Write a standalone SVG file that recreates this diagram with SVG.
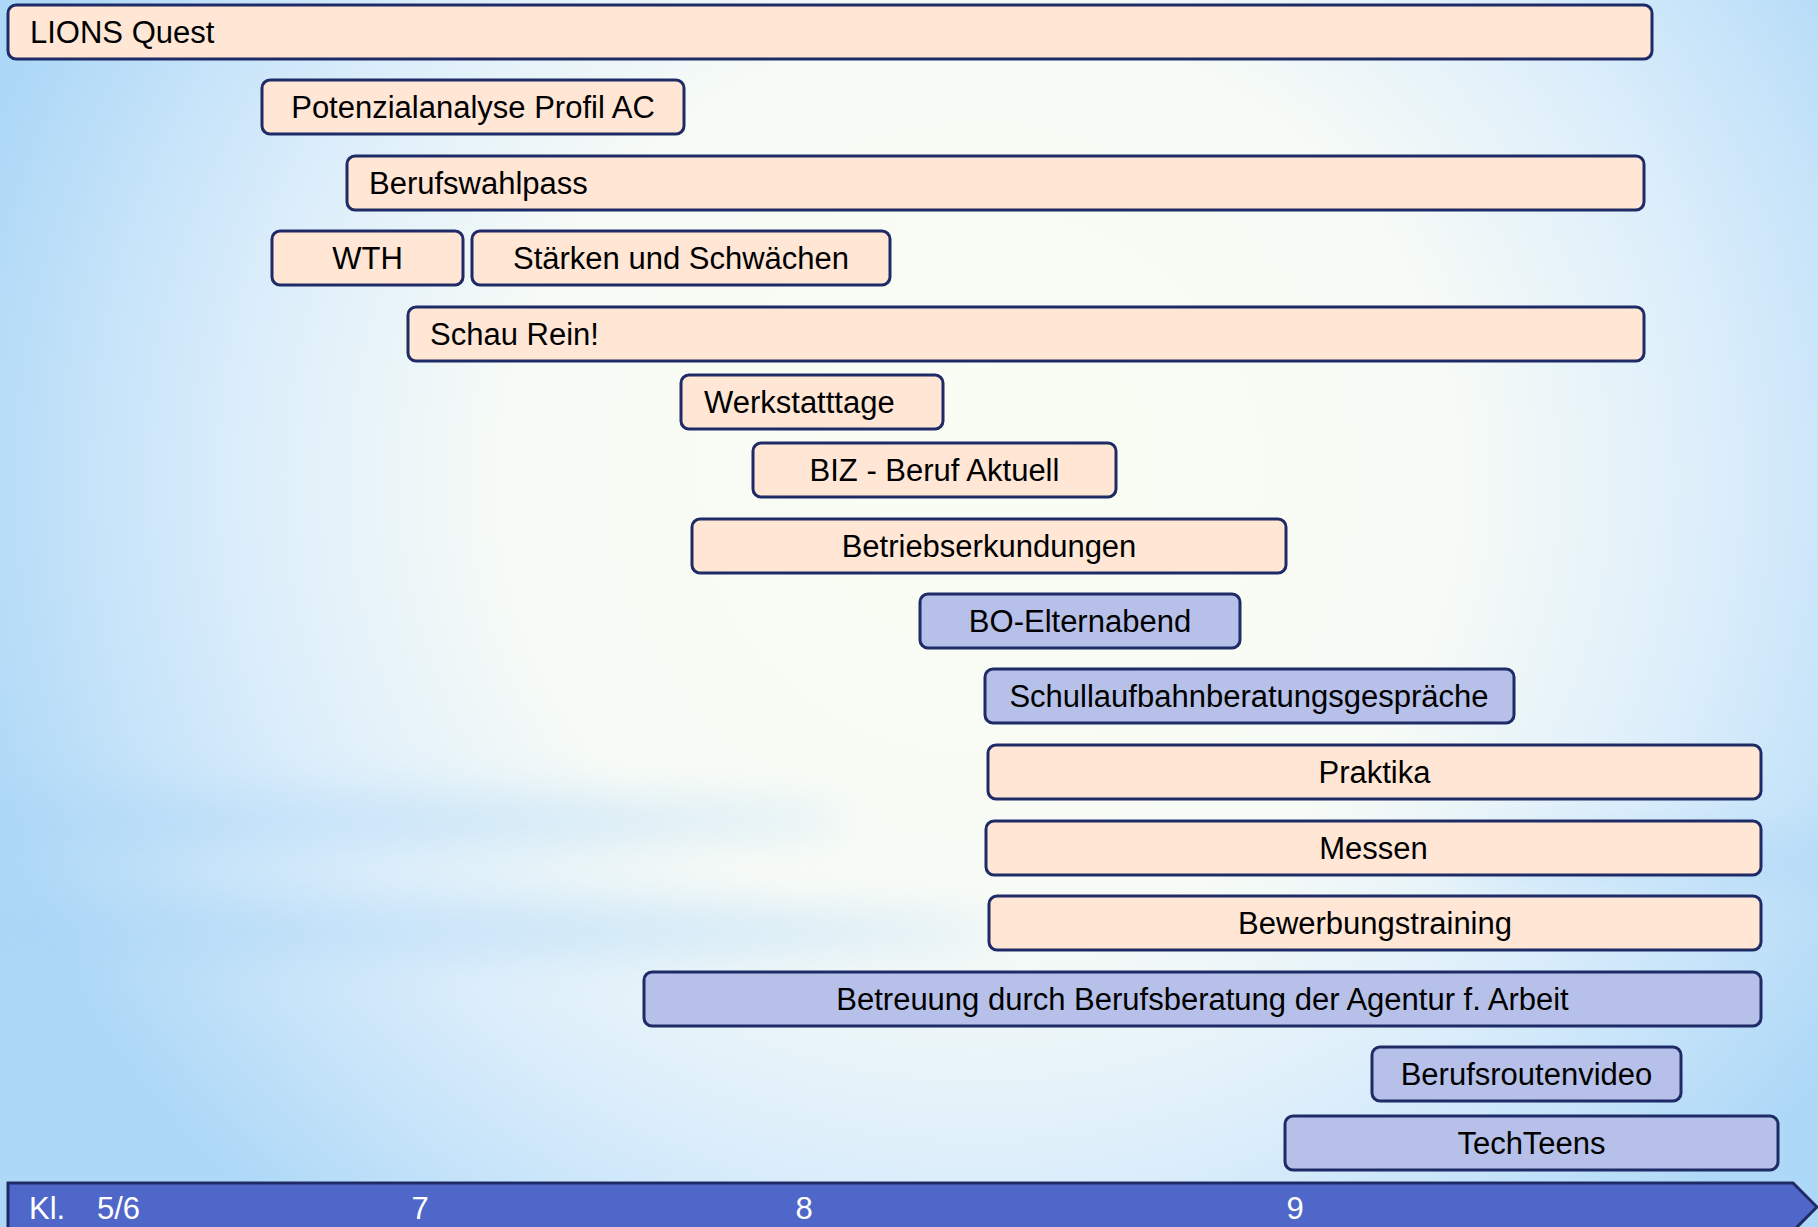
<svg xmlns="http://www.w3.org/2000/svg" width="1818" height="1227" viewBox="0 0 1818 1227">
<defs>
<radialGradient id="bg" cx="980" cy="480" r="1050" gradientUnits="userSpaceOnUse" gradientTransform="translate(980 480) scale(1 0.95) translate(-980 -480)">
<stop offset="0" stop-color="#FAFDF2"/>
<stop offset="0.45" stop-color="#F7FBF6"/>
<stop offset="0.7" stop-color="#DCEEFB"/>
<stop offset="1" stop-color="#ADD8F7"/>
</radialGradient>
<filter id="blur" x="-50%" y="-50%" width="200%" height="200%"><feGaussianBlur stdDeviation="22"/></filter>
<style>
.peach{fill:#FFE6D5;stroke:#1F2B66;stroke-width:3}
.blue{fill:#B6C0E8;stroke:#1F2B66;stroke-width:3}
.t{font-family:"Liberation Sans",Arial,sans-serif;font-size:31px;fill:#000}
.c{text-anchor:middle}
.ax{font-family:"Liberation Sans",Arial,sans-serif;font-size:31px;fill:#FFFFFF}
</style>
</defs>
<rect x="0" y="0" width="1818" height="1227" fill="url(#bg)"/>
<g filter="url(#blur)" opacity="0.4">
<ellipse cx="250" cy="820" rx="600" ry="26" fill="#A9D4F6"/>
<ellipse cx="300" cy="930" rx="700" ry="28" fill="#A9D4F6"/>
<ellipse cx="1700" cy="860" rx="250" ry="30" fill="#A9D4F6"/>
</g>

<g id="connectors"></g>

<g id="n1"><rect class="peach" x="8" y="5" width="1644" height="54" rx="8"/><text class="t" x="30" y="43">LIONS Quest</text></g>
<g id="n2"><rect class="peach" x="262" y="80" width="422" height="54" rx="8"/><text class="t c" x="473" y="118">Potenzialanalyse Profil AC</text></g>
<g id="n3"><rect class="peach" x="347" y="156" width="1297" height="54" rx="8"/><text class="t" x="369" y="194">Berufswahlpass</text></g>
<g id="n4"><rect class="peach" x="272" y="231" width="191" height="54" rx="8"/><text class="t c" x="367.5" y="269">WTH</text></g>
<g id="n5"><rect class="peach" x="472" y="231" width="418" height="54" rx="8"/><text class="t c" x="681" y="269">Stärken und Schwächen</text></g>
<g id="n6"><rect class="peach" x="408" y="307" width="1236" height="54" rx="8"/><text class="t" x="430" y="345">Schau Rein!</text></g>
<g id="n7"><rect class="peach" x="681" y="375" width="262" height="54" rx="8"/><text class="t" x="704" y="413">Werkstatttage</text></g>
<g id="n8"><rect class="peach" x="753" y="443" width="363" height="54" rx="8"/><text class="t c" x="934.5" y="481">BIZ - Beruf Aktuell</text></g>
<g id="n9"><rect class="peach" x="692" y="519" width="594" height="54" rx="8"/><text class="t c" x="989" y="557">Betriebserkundungen</text></g>
<g id="n10"><rect class="blue" x="920" y="594" width="320" height="54" rx="8"/><text class="t c" x="1080" y="632">BO-Elternabend</text></g>
<g id="n11"><rect class="blue" x="985" y="669" width="529" height="54" rx="8"/><text class="t c" x="1249" y="707">Schullaufbahnberatungsgespräche</text></g>
<g id="n12"><rect class="peach" x="988" y="745" width="773" height="54" rx="8"/><text class="t c" x="1374.5" y="783">Praktika</text></g>
<g id="n13"><rect class="peach" x="986" y="821" width="775" height="54" rx="8"/><text class="t c" x="1373.5" y="859">Messen</text></g>
<g id="n14"><rect class="peach" x="989" y="896" width="772" height="54" rx="8"/><text class="t c" x="1375" y="934">Bewerbungstraining</text></g>
<g id="n15"><rect class="blue" x="644" y="972" width="1117" height="54" rx="8"/><text class="t c" x="1202.5" y="1010">Betreuung durch Berufsberatung der Agentur f. Arbeit</text></g>
<g id="n16"><rect class="blue" x="1372" y="1047" width="309" height="54" rx="8"/><text class="t c" x="1526.5" y="1085">Berufsroutenvideo</text></g>
<g id="n17"><rect class="blue" x="1285" y="1116" width="493" height="54" rx="8"/><text class="t c" x="1531.5" y="1154">TechTeens</text></g>

<g id="axis">
<path d="M8,1183 L1793,1183 L1817,1207 L1793,1231 L8,1231 Z" fill="#4F67C8" stroke="#1F2B66" stroke-width="3"/>
<text class="ax" x="29" y="1219">Kl.</text>
<text class="ax" x="97" y="1219">5/6</text>
<text class="ax c" x="420" y="1219">7</text>
<text class="ax c" x="804" y="1219">8</text>
<text class="ax c" x="1295" y="1219">9</text>
</g>
</svg>
